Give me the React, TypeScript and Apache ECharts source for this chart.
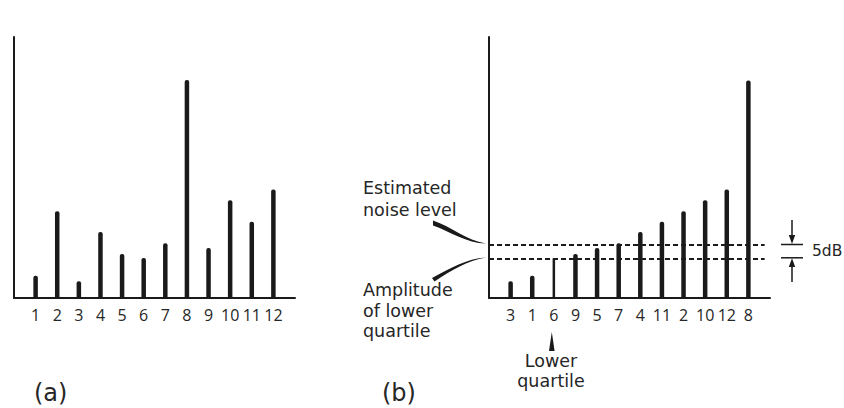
import React, { useEffect, useRef } from "react";
import * as echarts from "echarts";

// ---- Data (heights in arbitrary amplitude units, axis 0..100) ----
const leftCategories = ["1", "2", "3", "4", "5", "6", "7", "8", "9", "10", "11", "12"];
const leftValues = [8.5, 33.2, 6.4, 25.3, 16.9, 15.3, 21.0, 83.5, 19.2, 37.5, 29.2, 41.6];

const rightCategories = ["3", "1", "6", "9", "5", "7", "4", "11", "2", "10", "12", "8"];
const rightValues = [6.4, 8.5, 15.2, 16.9, 19.2, 21.0, 25.3, 29.2, 33.2, 37.5, 41.6, 83.3];
const lowerQuartileIndex = 2; // "6"

const noiseLevel = 20.3; // estimated noise level
const lowerQuartileAmplitude = 15.2; // amplitude of lower quartile
const dashedLineEnd = 12.75;

const INK = "#1a1a1a";
const TEXT = "#262626";
const TICK_FONT = "Open Sans";
const NOTE_FONT = "DejaVu Sans";

const wedgeTop =
  "M433,220.5 C452,227 466,240 486,243.6 C466,243 451,232 433,225.5 Z";
const wedgeBottom =
  "M486,257.6 C466,259 451,268 432,278 L434.5,281.5 C452,270 467,261 486,257.6 Z";

let registered = false;
function registerShapes() {
  if (registered) return;
  echarts.graphic.registerShape("wedgeTop", echarts.graphic.extendPath(wedgeTop, {}));
  echarts.graphic.registerShape("wedgeBottom", echarts.graphic.extendPath(wedgeBottom, {}));
  registered = true;
}

function makeXAxis(gridIndex: number, labels: string[], show = true) {
  return {
    type: "value",
    gridIndex,
    min: 0,
    max: 13,
    interval: 1,
    show,
    axisLine: { show: true, onZero: false, lineStyle: { color: INK, width: 2 } },
    axisTick: { show: false },
    splitLine: { show: false },
    axisLabel: {
      show: true,
      margin: 9,
      color: TEXT,
      fontFamily: TICK_FONT,
      fontSize: 16,
      formatter: (v: number) => (v >= 1 && v <= labels.length ? labels[v - 1] : ""),
    },
  };
}

function makeYAxis(gridIndex: number) {
  return {
    type: "value",
    gridIndex,
    min: 0,
    max: 100,
    axisLine: { show: true, lineStyle: { color: INK, width: 2 } },
    axisTick: { show: false },
    axisLabel: { show: false },
    splitLine: { show: false },
  };
}

export default function App() {
  const ref = useRef<HTMLDivElement>(null);

  useEffect(() => {
    if (!ref.current) return;
    registerShapes();
    const chart = echarts.init(ref.current, null, { renderer: "svg" });

    const barStyle = { color: INK, borderRadius: [2, 2, 0, 0] };
    const noteFont = `17.5px "${NOTE_FONT}"`;

    const option: any = {
      animation: false,
      backgroundColor: "#ffffff",
      grid: [
        { left: 14, top: 37, width: 281, height: 261 },
        { left: 489, top: 37, width: 281, height: 261 },
      ],
      xAxis: [
        makeXAxis(0, leftCategories),
        makeXAxis(1, rightCategories),
        { ...makeXAxis(1, rightCategories), show: false },
      ],
      yAxis: [makeYAxis(0), makeYAxis(1)],
      series: [
        {
          type: "bar",
          xAxisIndex: 0,
          yAxisIndex: 0,
          barWidth: 4.5,
          itemStyle: barStyle,
          data: leftValues.map((v, i) => [i + 1, v]),
        },
        {
          type: "bar",
          xAxisIndex: 1,
          yAxisIndex: 1,
          barWidth: 4.5,
          itemStyle: barStyle,
          data: rightValues
            .map((v, i) => [i + 1, v])
            .filter((_, i) => i !== lowerQuartileIndex),
          markLine: {
            silent: true,
            symbol: "none",
            label: { show: false },
            lineStyle: { color: INK, width: 2, type: [5, 3] },
            data: [
              [{ coord: [0, noiseLevel] }, { coord: [dashedLineEnd, noiseLevel] }],
              [
                { coord: [0, lowerQuartileAmplitude] },
                { coord: [dashedLineEnd, lowerQuartileAmplitude] },
              ],
            ],
          },
        },
        {
          type: "bar",
          xAxisIndex: 2,
          yAxisIndex: 1,
          barWidth: 2.5,
          itemStyle: { color: INK },
          data: [[lowerQuartileIndex + 1, rightValues[lowerQuartileIndex]]],
        },
      ],
      graphic: [
        {
          type: "text",
          left: 363,
          top: 177,
          style: { text: "Estimated\nnoise level", fill: TEXT, font: noteFont, lineHeight: 22 },
        },
        {
          type: "text",
          left: 363,
          top: 280,
          style: { text: "Amplitude\nof lower\nquartile", fill: TEXT, font: noteFont, lineHeight: 20.5 },
        },
        { type: "wedgeTop", x: 0, y: 0, style: { fill: INK } },
        { type: "wedgeBottom", x: 0, y: 0, style: { fill: INK } },
        {
          type: "polygon",
          shape: { points: [[551.8, 332], [549, 351], [554.6, 351]] },
          style: { fill: INK },
        },
        {
          type: "text",
          x: 551,
          y: 351,
          style: {
            text: "Lower\nquartile",
            fill: TEXT,
            font: noteFont,
            lineHeight: 20,
            align: "center",
            textAlign: "center",
          },
        },
        // 5dB marker
        { type: "line", shape: { x1: 781, y1: 244.5, x2: 803, y2: 244.5 }, style: { stroke: INK, lineWidth: 1.5 } },
        { type: "line", shape: { x1: 781, y1: 257.8, x2: 803, y2: 257.8 }, style: { stroke: INK, lineWidth: 1.5 } },
        { type: "line", shape: { x1: 792, y1: 220, x2: 792, y2: 238 }, style: { stroke: INK, lineWidth: 1.5 } },
        {
          type: "polygon",
          shape: { points: [[792, 244], [788.8, 235], [795.2, 235]] },
          style: { fill: INK },
        },
        { type: "line", shape: { x1: 792, y1: 264, x2: 792, y2: 282 }, style: { stroke: INK, lineWidth: 1.5 } },
        {
          type: "polygon",
          shape: { points: [[792, 258.3], [788.8, 267], [795.2, 267]] },
          style: { fill: INK },
        },
        {
          type: "text",
          x: 812,
          y: 251,
          style: {
            text: "5dB",
            fill: TEXT,
            font: `15.5px "${NOTE_FONT}"`,
            verticalAlign: "middle",
            textVerticalAlign: "middle",
          },
        },
        // panel labels
        {
          type: "text",
          x: 34,
          y: 393,
          style: {
            text: "(a)",
            fill: TEXT,
            font: `24px "${NOTE_FONT}"`,
            verticalAlign: "middle",
            textVerticalAlign: "middle",
          },
        },
        {
          type: "text",
          x: 382,
          y: 393,
          style: {
            text: "(b)",
            fill: TEXT,
            font: `24px "${NOTE_FONT}"`,
            verticalAlign: "middle",
            textVerticalAlign: "middle",
          },
        },
      ],
    };

    chart.setOption(option);
    return () => chart.dispose();
  }, []);

  return (
    <div
      ref={ref}
      style={{ position: "fixed", left: 0, top: 0, width: 844, height: 408, background: "#fff" }}
    />
  );
}
